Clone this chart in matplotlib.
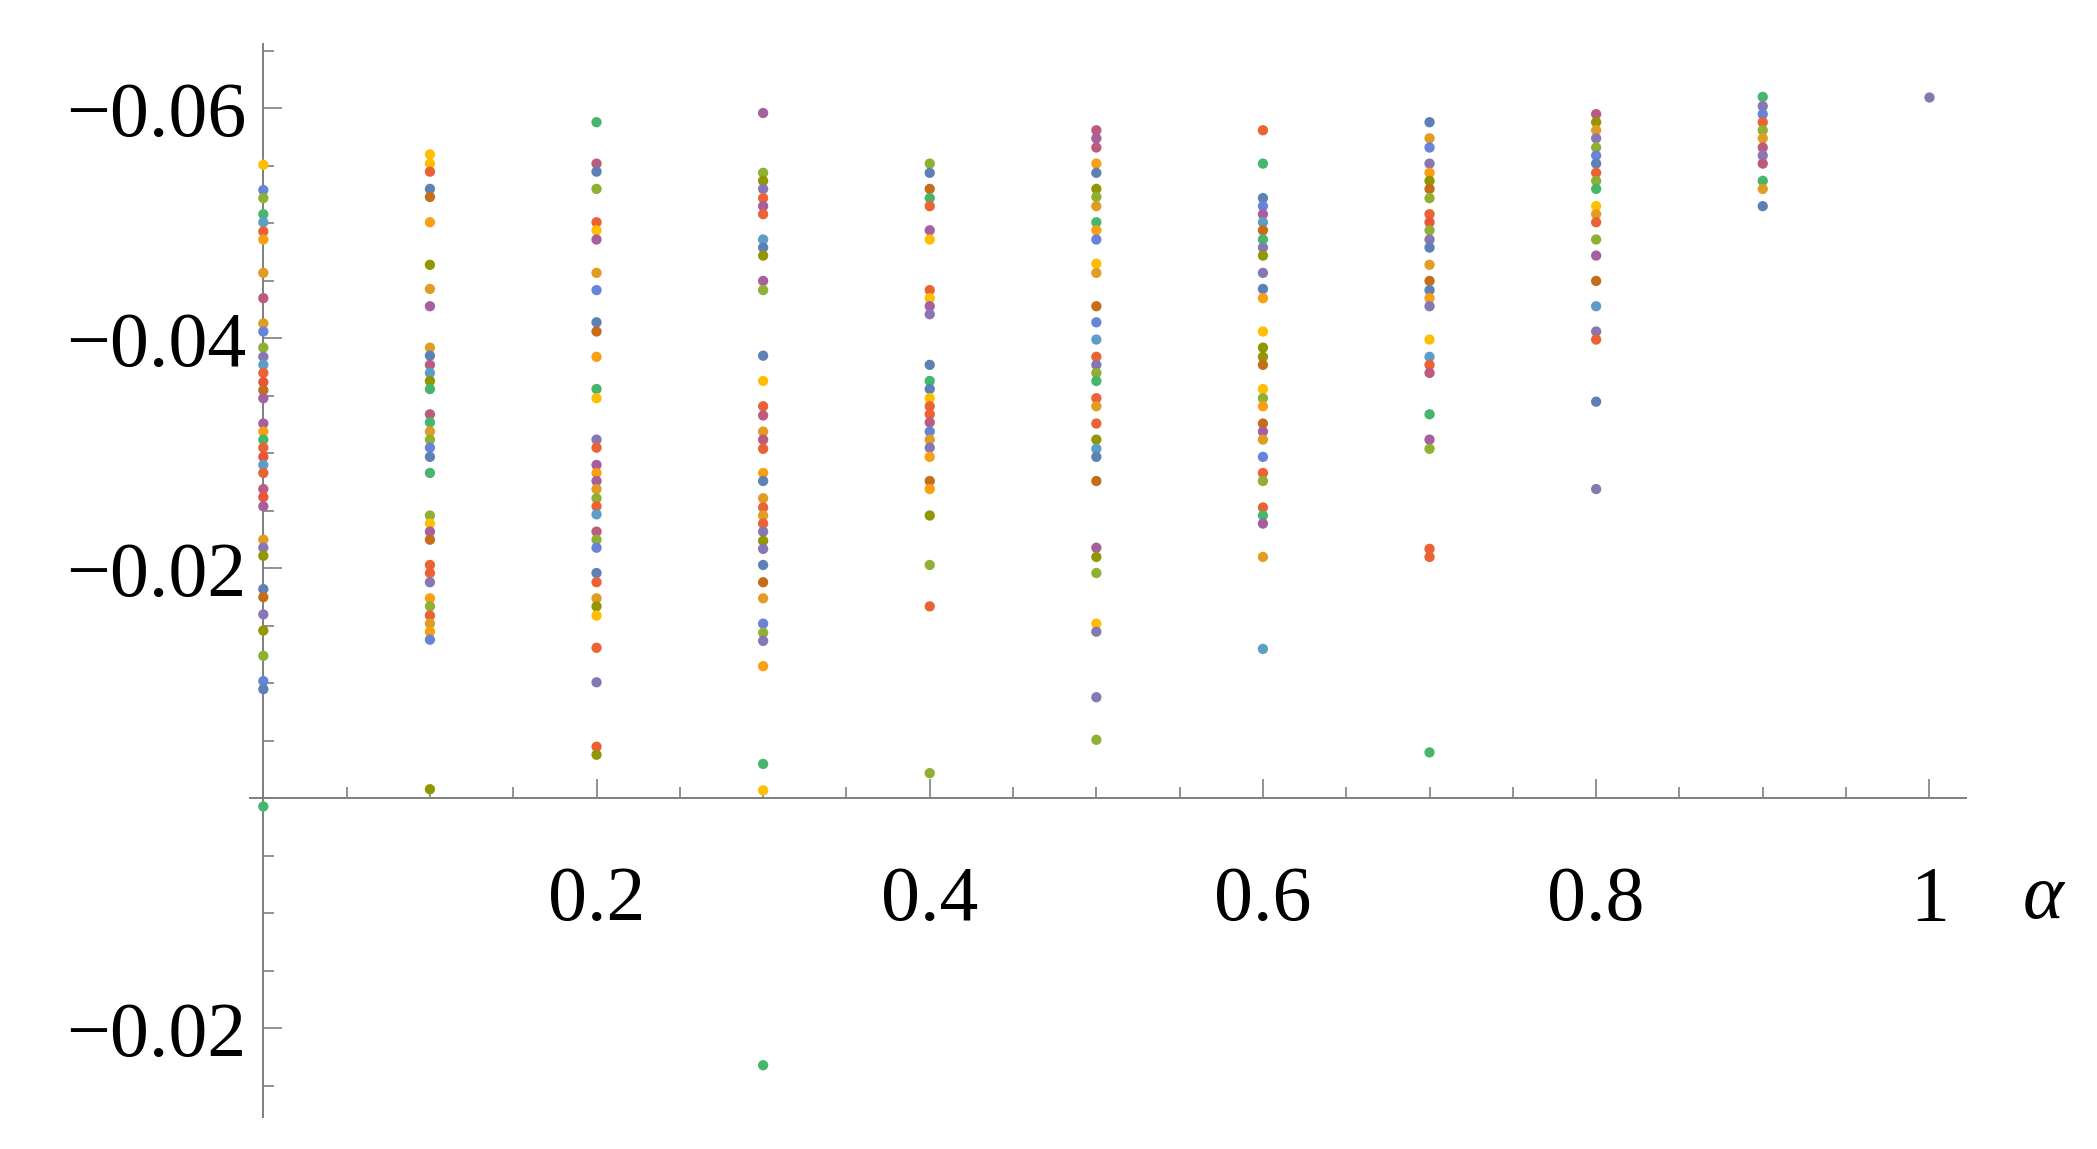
import matplotlib
matplotlib.use("Agg")
import matplotlib.pyplot as plt
from matplotlib.ticker import MultipleLocator

# Mathematica default (ColorData 97) palette, keyed by letter
palette = {
    "b": "#5E81B5", "o": "#E19C24", "g": "#8FB032", "r": "#EB6235",
    "p": "#8778B3", "n": "#C56E1A", "c": "#5D9EC7", "y": "#FFBF00",
    "m": "#A5609D", "v": "#929600", "R": "#E95536", "B": "#6685D9",
    "O": "#F89F13", "k": "#BC5B80", "G": "#47B66D",
}

alphas = [0.0, 0.1, 0.2, 0.3, 0.4, 0.5, 0.6, 0.7, 0.8, 0.9, 1.0]

vals_00 = [0.0551, 0.0529, 0.0522, 0.0508, 0.0501, 0.0493, 0.0486, 0.0457, 0.0435, 0.0413,
           0.0406, 0.0392, 0.0384, 0.0377, 0.0370, 0.0362, 0.0355, 0.0348, 0.0326, 0.0319,
           0.0312, 0.0305, 0.0297, 0.0290, 0.0283, 0.0269, 0.0262, 0.0254, 0.0225, 0.0218,
           0.0211, 0.0182, 0.0175, 0.0160, 0.0146, 0.0124, 0.0102, 0.0095, -0.0007]
keys_00 = "yBgGcrOokoBgpcrRnmmOGrRcrkRmopvbnpvgBbG"

vals_01 = [0.0560, 0.0552, 0.0545, 0.0530, 0.0523, 0.0501, 0.0464, 0.0443, 0.0428, 0.0392,
           0.0385, 0.0377, 0.0370, 0.0363, 0.0356, 0.0334, 0.0327, 0.0319, 0.0312, 0.0305,
           0.0297, 0.0283, 0.0246, 0.0239, 0.0232, 0.0225, 0.0203, 0.0196, 0.0188, 0.0174,
           0.0167, 0.0159, 0.0152, 0.0145, 0.0138, 0.0008]
keys_01 = "yyrbnOvomobkcvGkGogBbGgymnrrpOgroOBv"

vals_02 = [0.0588, 0.0552, 0.0545, 0.0530, 0.0501, 0.0494, 0.0486, 0.0457, 0.0442, 0.0414,
           0.0406, 0.0384, 0.0356, 0.0348, 0.0312, 0.0305, 0.0290, 0.0283, 0.0276, 0.0269,
           0.0261, 0.0254, 0.0247, 0.0232, 0.0225, 0.0218, 0.0196, 0.0188, 0.0174, 0.0167,
           0.0159, 0.0131, 0.0101, 0.0045, 0.0038]
keys_02 = "GkbgrymoBbnOGyprmOmogrckgBbrovyrprv"

vals_03 = [0.0596, 0.0544, 0.0537, 0.0530, 0.0522, 0.0515, 0.0508, 0.0486, 0.0479, 0.0472,
           0.0450, 0.0442, 0.0385, 0.0363, 0.0341, 0.0333, 0.0319, 0.0312, 0.0304, 0.0283,
           0.0276, 0.0261, 0.0253, 0.0246, 0.0239, 0.0232, 0.0224, 0.0217, 0.0203, 0.0188,
           0.0174, 0.0152, 0.0144, 0.0137, 0.0115, 0.0030, 0.0007, -0.0232]
keys_03 = "mgvprmrcbvmgbyrkokrObororpvpbnoBgpOGyG"

vals_04 = [0.0552, 0.0544, 0.0530, 0.0522, 0.0515, 0.0494, 0.0486, 0.0442, 0.0435, 0.0428,
           0.0421, 0.0377, 0.0363, 0.0356, 0.0348, 0.0341, 0.0334, 0.0327, 0.0319, 0.0312,
           0.0305, 0.0297, 0.0276, 0.0269, 0.0246, 0.0203, 0.0167, 0.0022]
keys_04 = "gbnGrmyrympbGbyrrkBopOnOvgrg"

vals_05 = [0.0581, 0.0574, 0.0566, 0.0552, 0.0544, 0.0530, 0.0523, 0.0515, 0.0501, 0.0494,
           0.0486, 0.0465, 0.0457, 0.0428, 0.0414, 0.0399, 0.0384, 0.0377, 0.0370, 0.0363,
           0.0348, 0.0341, 0.0326, 0.0312, 0.0304, 0.0297, 0.0276, 0.0218, 0.0210, 0.0196,
           0.0152, 0.0145, 0.0088, 0.0051]
keys_05 = "kmkObvgoGOByonBcrpgGrorvcbnmvgyppg"

vals_06 = [0.0581, 0.0552, 0.0522, 0.0515, 0.0508, 0.0501, 0.0494, 0.0486, 0.0479, 0.0472,
           0.0457, 0.0443, 0.0435, 0.0406, 0.0392, 0.0384, 0.0377, 0.0356, 0.0348, 0.0341,
           0.0326, 0.0319, 0.0312, 0.0297, 0.0283, 0.0276, 0.0253, 0.0246, 0.0239, 0.0210,
           0.0130]
keys_06 = "rGbBmcnGpvpbOyvvnygOnmoBrgrGmoc"

vals_07 = [0.0588, 0.0574, 0.0566, 0.0552, 0.0544, 0.0537, 0.0530, 0.0522, 0.0508, 0.0501,
           0.0494, 0.0486, 0.0479, 0.0464, 0.0450, 0.0442, 0.0435, 0.0428, 0.0399, 0.0384,
           0.0377, 0.0370, 0.0334, 0.0312, 0.0304, 0.0217, 0.0210, 0.0040]
keys_07 = "boBpOvngrRgpbonbOpycrkGmgrrG"

vals_08 = [0.0595, 0.0588, 0.0581, 0.0574, 0.0566, 0.0559, 0.0552, 0.0544, 0.0537, 0.0530,
           0.0515, 0.0508, 0.0501, 0.0486, 0.0472, 0.0450, 0.0428, 0.0406, 0.0399, 0.0345,
           0.0269]
keys_08 = "kvopgBbrgGyorgmncprbp"

vals_09 = [0.0610, 0.0602, 0.0595, 0.0588, 0.0581, 0.0574, 0.0566, 0.0559, 0.0552, 0.0537,
           0.0530, 0.0515]
keys_09 = "GpBrgokpkGob"

vals_10 = [0.0610]
keys_10 = "p"

columns = [(vals_00, keys_00), (vals_01, keys_01), (vals_02, keys_02), (vals_03, keys_03),
           (vals_04, keys_04), (vals_05, keys_05), (vals_06, keys_06), (vals_07, keys_07),
           (vals_08, keys_08), (vals_09, keys_09), (vals_10, keys_10)]

ytick_vals = [0.06, 0.04, 0.02, -0.02]
ytick_labels = ["\u22120.06", "\u22120.04", "\u22120.02", "\u22120.02"]
xtick_vals = [0.2, 0.4, 0.6, 0.8, 1.0]
xtick_labels = ["0.2", "0.4", "0.6", "0.8", "1"]

W, H = 2097, 1149
fig = plt.figure(figsize=(W / 100, H / 100), dpi=100)
ax = fig.add_axes([250 / W, 1 - 1117 / H, (1966 - 250) / W, (1117 - 44) / H])

for a, (vals, keys) in zip(alphas, columns):
    assert len(vals) == len(keys)
    ax.scatter([a] * len(vals), vals, s=55, c=[palette[k] for k in keys],
               linewidths=0, zorder=5, clip_on=False)

ax.set_xlim(-0.008, 1.022)
ax.set_ylim(-0.0277, 0.0656)

axis_col = "#7f7f7f"
for side in ["top", "right"]:
    ax.spines[side].set_visible(False)
ax.spines["left"].set_position(("data", 0))
ax.spines["bottom"].set_position(("data", 0))
for side in ["left", "bottom"]:
    ax.spines[side].set_color(axis_col)
    ax.spines[side].set_linewidth(1.4)

font = "Liberation Serif"
ax.set_xticks(xtick_vals, labels=xtick_labels)
ax.set_yticks(ytick_vals, labels=ytick_labels)
ax.xaxis.set_minor_locator(MultipleLocator(0.05))
ax.yaxis.set_minor_locator(MultipleLocator(0.005))

ax.tick_params(which="both", direction="in", color=axis_col, width=1.2)
ax.tick_params(which="major", length=14)
ax.tick_params(which="minor", length=8)
ax.tick_params(axis="x", which="major", pad=48)
ax.tick_params(axis="y", which="major", pad=12)
for lab in ax.get_xticklabels() + ax.get_yticklabels():
    lab.set_fontfamily(font)
    lab.set_fontsize(56)

fig.text(2043 / W, 1 - 899 / H, "\u03b1", fontsize=56, fontfamily=font,
         style="italic", ha="center", va="center")

fig.savefig("out.png", dpi=100)
